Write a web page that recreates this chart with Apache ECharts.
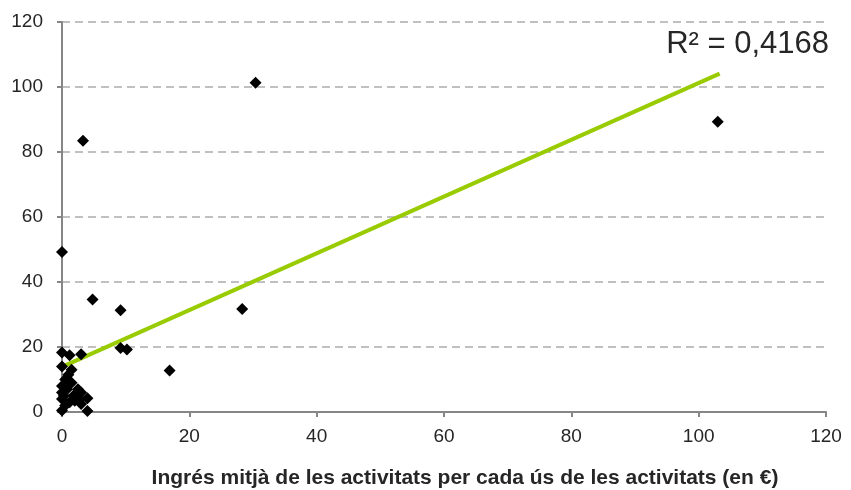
<!DOCTYPE html>
<html>
<head>
<meta charset="utf-8">
<script src="https://cdn.jsdelivr.net/npm/echarts@6/dist/echarts.min.js"></script>
<style>
  html, body { margin: 0; padding: 0; background: #fff; }
  #chart { width: 851px; height: 490px; }
</style>
</head>
<body>
<div id="chart"></div>
<script>
// scatter points [income per use, y value]
const points = [
  [0, 18.3], [1.2, 17.5], [3, 17.8], [0, 14], [1.5, 13], [1, 11.5], [0.5, 10],
  [1.5, 9], [0, 8], [0.8, 7], [2.5, 7], [0, 6], [3, 6], [0.3, 5], [1.8, 5],
  [0, 4], [4, 4.2], [2, 3.5], [1.2, 3], [3, 2.5], [0, 0.5], [4, 0.3],
  [2.8, 4], [0.5, 2],
  [4.8, 34.6], [9.2, 31.3], [9.2, 19.7], [10.2, 19.2], [16.9, 12.8],
  [28.3, 31.7], [30.4, 101.3], [3.3, 83.5], [0, 49.2], [103, 89.3]
]
// linear trend line endpoints
const trendX = [0, 103.3]
const trendY = [13.9, 104.1]
const r2Label = 'R² = 0,4168'
const xTicks = [0, 20, 40, 60, 80, 100, 120]

const labelColor = '#262626'
const axisGray = '#868686'

const chart = echarts.init(document.getElementById('chart'))
const option = {
    animation: false,
    grid: { left: 62, right: 25, top: 22, bottom: 78, outerBoundsMode: 'none', containLabel: false },
    xAxis: {
        type: 'value',
        min: xTicks[0],
        max: xTicks[xTicks.length - 1],
        interval: 20,
        name: 'Ingrés mitjà de les activitats per cada ús de les activitats (en €)',
        nameLocation: 'middle',
        nameGap: 56,
        nameTextStyle: { fontFamily: 'Liberation Sans', fontSize: 21, fontWeight: 'bold', color: labelColor, padding: [0, 0, 0, 42] },
        axisLine: { lineStyle: { color: axisGray, width: 2 } },
        axisTick: { show: true, length: 5, lineStyle: { color: axisGray, width: 2 } },
        axisLabel: { fontFamily: 'Liberation Sans', fontSize: 19, color: labelColor, margin: 15 },
        splitLine: { show: false }
    },
    yAxis: {
        type: 'value',
        min: 0,
        max: 120,
        interval: 20,
        axisLine: { show: true, lineStyle: { color: axisGray, width: 2 } },
        axisTick: { show: true, length: 5, lineStyle: { color: axisGray, width: 2 } },
        axisLabel: { fontFamily: 'Liberation Sans', fontSize: 19, color: labelColor, margin: 19 },
        splitLine: { show: true, lineStyle: { color: '#c0c0c0', width: 2, type: [8, 5] } }
    },
    series: [
        {
            name: 'trend',
            type: 'line',
            data: trendX.map((x, i) => [x, trendY[i]]),
            symbol: 'none',
            lineStyle: { color: '#99cc00', width: 4 },
            z: 2
        },
        {
            name: 'points',
            type: 'scatter',
            data: points,
            symbol: 'diamond',
            symbolSize: [12, 12],
            itemStyle: { color: '#000', opacity: 1 },
            z: 3
        }
    ],
    graphic: [{
        type: 'text',
        right: 22,
        top: 29,
        style: {
            text: r2Label,
            fontFamily: 'Liberation Sans',
            fontSize: 31,
            fill: labelColor
        }
    }]
}
chart.setOption(option)
</script>
</body>
</html>
